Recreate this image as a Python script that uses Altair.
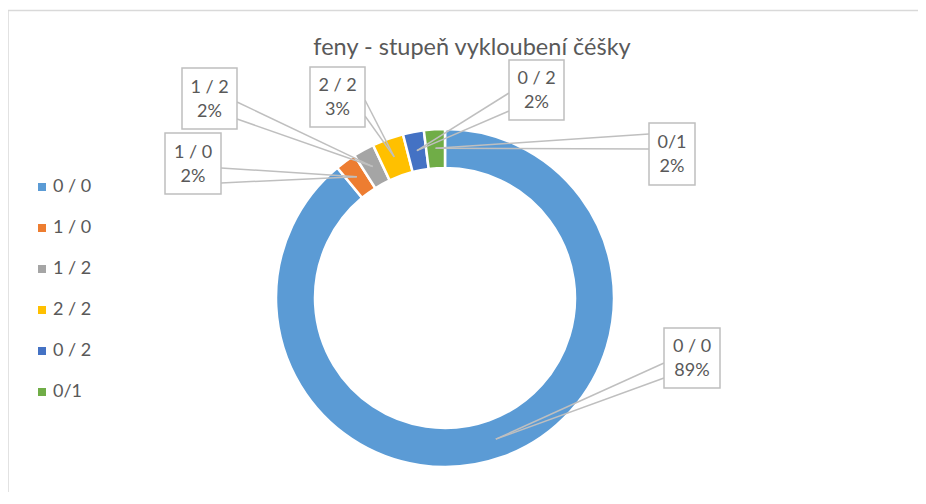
import altair as alt
import pandas as pd
import math

# ---- data ----
categories = ["0 / 0", "1 / 0", "1 / 2", "2 / 2", "0 / 2", "0/1"]
percent = [89, 2, 2, 3, 2, 2]
colors = ["#5B9BD5", "#ED7D31", "#A5A5A5", "#FFC000", "#4472C4", "#70AD47"]
title_text = "feny - stupeň vykloubení čéšky"

# ---- layout (page px, converted to canvas by -8) ----
OFF = 8
CX, CY = 445 - OFF, 298 - OFF
R_OUT, R_IN = 169, 130
R_TIP = 150
TEXT_COLOR = "#595959"
FONT = "Lato"

box_layout = {
    "0 / 0": (664, 328, 720, 388),
    "1 / 0": (165, 133, 221, 194),
    "1 / 2": (182, 68, 237, 129),
    "2 / 2": (310, 67, 365, 127),
    "0 / 2": (509, 60, 564, 120),
    "0/1": (649, 123, 695, 185),
}
anchor_layout = {
    "0 / 0": ((664, 363), (664, 378)),
    "1 / 0": ((221, 168), (221, 183)),
    "1 / 2": ((237, 102), (237, 119)),
    "2 / 2": ((365, 100), (365, 116)),
    "0 / 2": ((509, 93), (509, 111)),
    "0/1": ((649, 134), (649, 149)),
}

total = sum(percent)
arc_df = pd.DataFrame({"category": categories, "value": percent, "idx": list(range(len(categories)))})

# label table derived from the data
rows, lines = [], []
cum = 0
for cat, v in zip(categories, percent):
    mid = (cum + v / 2) / total * 2 * math.pi
    cum += v
    tx = CX + R_TIP * math.sin(mid)
    ty = CY - R_TIP * math.cos(mid)
    l, t, r, b = box_layout[cat]
    rows.append({
        "x": l - OFF, "x2": r - OFF, "y": t - OFF, "y2": b - OFF,
        "cx": (l + r) / 2 - OFF, "cy": (t + b) / 2 - OFF - 11,
        "label": f"{cat}\n{round(v / total * 100)}%",
    })
    for (ax, ay) in anchor_layout[cat]:
        lines.append({"x": ax - OFF, "y": ay - OFF, "x2": tx, "y2": ty})

box_df = pd.DataFrame(rows)
line_df = pd.DataFrame(lines)

W, H = 910, 484

border = alt.Chart(pd.DataFrame({"a": [0]})).mark_rect(
    fill="white", fillOpacity=0, stroke="#d9d9d9", strokeWidth=1.5
).encode(x=alt.value(0), x2=alt.value(1000), y=alt.value(2.5), y2=alt.value(600))

arc = alt.Chart(arc_df).mark_arc(
    radius=R_OUT, radius2=R_IN, stroke="white", strokeWidth=2.5
).encode(
    theta=alt.Theta("value:Q", stack=True),
    order=alt.Order("idx:Q"),
    color=alt.Color(
        "category:N",
        scale=alt.Scale(domain=categories, range=colors),
        sort=categories,
        legend=alt.Legend(
            title=None, orient="none", legendX=25, legendY=170,
            symbolType="square", symbolSize=64, symbolStrokeWidth=0,
            labelFontSize=18, labelFont=FONT, labelColor=TEXT_COLOR,
            labelOffset=2, rowPadding=23, padding=0,
        ),
    ),
    x=alt.value(CX),
    y=alt.value(CY),
)

leaders = alt.Chart(line_df).mark_rule(color="#bfbfbf", strokeWidth=1.5).encode(
    x=alt.X("x:Q", scale=None, axis=None),
    y=alt.Y("y:Q", scale=None, axis=None),
    x2="x2:Q",
    y2="y2:Q",
)

boxes = alt.Chart(box_df).mark_rect(fill="white", stroke="#bfbfbf", strokeWidth=1.5).encode(
    x=alt.X("x:Q", scale=None, axis=None),
    x2="x2:Q",
    y=alt.Y("y:Q", scale=None, axis=None),
    y2="y2:Q",
)

labels = alt.Chart(box_df).mark_text(
    font=FONT, fontSize=18, color=TEXT_COLOR, align="center", baseline="middle",
    lineBreak="\n", lineHeight=24,
).encode(
    x=alt.X("cx:Q", scale=None, axis=None),
    y=alt.Y("cy:Q", scale=None, axis=None),
    text="label:N",
)

title = alt.Chart(pd.DataFrame({"t": [title_text]})).mark_text(
    font=FONT, fontSize=23.5, color=TEXT_COLOR, align="center", baseline="alphabetic"
).encode(x=alt.value(472 - OFF), y=alt.value(55 - OFF), text="t:N")

chart = alt.layer(border, arc, leaders, boxes, labels, title).properties(
    width=W, height=H, padding=0, autosize=alt.AutoSizeParams(type="none")
).configure_view(stroke=None)

chart.save("out.html", embed_options={"renderer": "svg", "actions": False})
